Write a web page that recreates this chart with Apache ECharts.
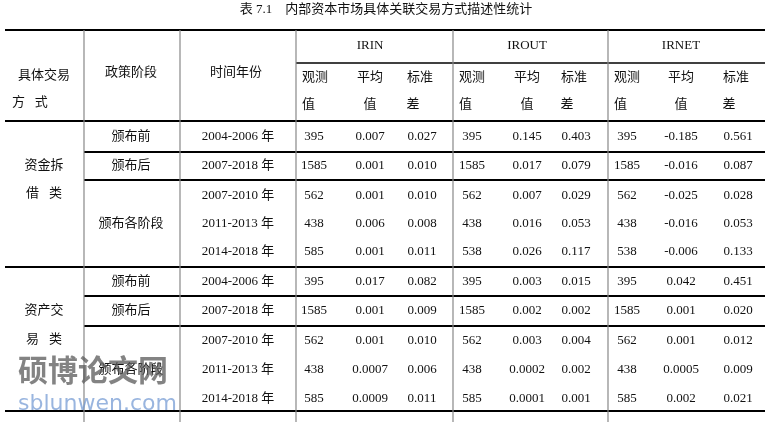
<!DOCTYPE html><html><head><meta charset="utf-8">
<script src="https://cdn.jsdelivr.net/npm/echarts@6/dist/echarts.min.js"></script>
<style>html,body{margin:0;background:#fff}#c{width:772px;height:422px}</style></head><body><div id="c"></div>
<script>
const title = '表 7.1    内部资本市场具体关联交易方式描述性统计';
const groups = ['IRIN','IROUT','IRNET'];
const blocks = ['资金拆借类','资产交易类'];
const stages = ['颁布前','颁布后','颁布各阶段'];
const years = ['2004-2006 年','2007-2018 年','2007-2010 年','2011-2013 年','2014-2018 年'];
const block1 = [
 ['395','0.007','0.027','395','0.145','0.403','395','-0.185','0.561'],
 ['1585','0.001','0.010','1585','0.017','0.079','1585','-0.016','0.087'],
 ['562','0.001','0.010','562','0.007','0.029','562','-0.025','0.028'],
 ['438','0.006','0.008','438','0.016','0.053','438','-0.016','0.053'],
 ['585','0.001','0.011','538','0.026','0.117','538','-0.006','0.133']];
const block2 = [
 ['395','0.017','0.082','395','0.003','0.015','395','0.042','0.451'],
 ['1585','0.001','0.009','1585','0.002','0.002','1585','0.001','0.020'],
 ['562','0.001','0.010','562','0.003','0.004','562','0.001','0.012'],
 ['438','0.0007','0.006','438','0.0002','0.002','438','0.0005','0.009'],
 ['585','0.0009','0.011','585','0.0001','0.001','585','0.002','0.021']];

const F = '"Liberation Serif","Noto Sans CJK SC",serif';
const colX = [314,370,422,472,527,576,627,681,738];
const g = [];
function T(x,y,s,align,size,fill){g.push({type:'text',x:x,y:y,style:{text:s,font:(size||13)+'px '+F,fill:fill||'#111',align:align||'center',verticalAlign:'middle'}});}
function L(x1,y1,x2,y2,w,c){g.push({type:'line',shape:{x1,y1,x2,y2},style:{stroke:c||'#000',lineWidth:w||1}});}
T(386,10,title,'center',13);
// horizontal lines
L(5,30,765,30,2); L(296,63,765,63,1.5); L(5,121,765,121,2);
L(84,152,765,152,2); L(84,180,765,180,2); L(5,267,765,267,2);
L(84,296,765,296,2); L(84,326,765,326,2); L(5,411,765,411,2);
[84,180,296,453,608].forEach(x=>L(x,30,x,422,1.2,'#888'));
// header
T(44,76,'具体交易'); T(12,103,'方   式','left');
T(131,73,'政策阶段'); T(236,73,'时间年份');
groups.forEach((s,i)=>T([370,527,681][i],46,s));
for(let i=0;i<3;i++){const b=[296,453,608][i];
 T(b+6,78,'观测','left'); T(b+6,105,'值','left');
 T(colX[i*3+1],78,'平均'); T(colX[i*3+1],105,'值');
 T(colX[i*3+2]-2,78,'标准'); T(colX[i*3+2]-9,105,'差');}
const rowsY=[[137,166,196,224,252],[282,311,341,370,399]];
const data=[block1,block2];
blocks.forEach((bl,bi)=>{
 const ys=rowsY[bi];
 T(44,bi?311:166,bl.slice(0,3)); T(44,bi?340:194,bl[3]+'   '+bl[4]);
 T(131,ys[0],stages[0]); T(131,ys[1],stages[1]); T(131,ys[3],stages[2]);
 years.forEach((y,r)=>T(238,ys[r],y));
 data[bi].forEach((row,r)=>row.forEach((v,c)=>T(colX[c],ys[r],v)));
});
// watermark
g.push({type:'text',x:18,y:370,style:{text:'硕博论文网',font:'bold 30px "Noto Sans CJK SC"',fill:'rgba(90,90,90,0.75)',verticalAlign:'middle'}});
g.push({type:'text',x:18,y:404,style:{text:'sblunwen.com',font:'22px "DejaVu Sans"',fill:'rgba(110,150,210,0.7)',verticalAlign:'middle'}});
const chart=echarts.init(document.getElementById('c'));
chart.setOption({animation:false,graphic:g});
</script></body></html>
